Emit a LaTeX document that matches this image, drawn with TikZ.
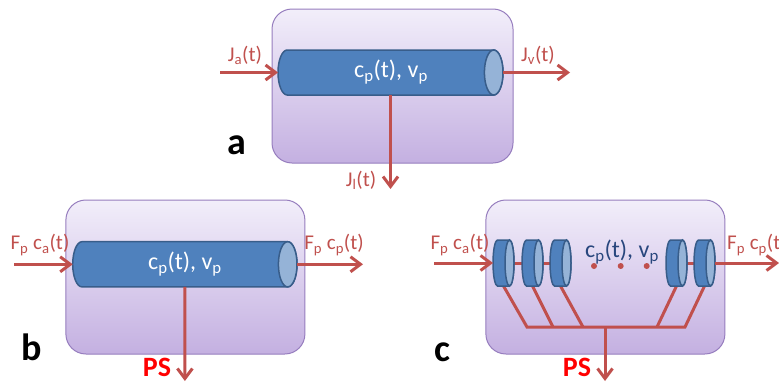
\documentclass[tikz,border=0pt]{standalone}
\usepackage{fontspec}
\setmainfont{Carlito}
\usetikzlibrary{arrows.meta}
\definecolor{boxtop}{RGB}{242,238,250}
\definecolor{boxbot}{RGB}{196,176,225}
\definecolor{boxedge}{RGB}{150,125,190}
\definecolor{tubefill}{RGB}{79,129,189}
\definecolor{tubeedge}{RGB}{56,93,138}
\definecolor{tubeend}{RGB}{149,179,215}
\definecolor{flow}{RGB}{192,80,77}
\definecolor{psred}{RGB}{255,0,0}
\definecolor{ctext}{RGB}{40,70,125}
\newcommand\sub[1]{\textsubscript{#1}}
\pgfdeclarelayer{boxes}
\pgfdeclarelayer{wires}
\pgfsetlayers{boxes,wires,main}
\newcommand\tube[6]{% name, left edge, right edge, center y, rx, ry
  \path[tubebody] ({#2+#5},{#4+#6}) -- ({#3-#5},{#4+#6})
    arc[start angle=90,end angle=-90,x radius=#5,y radius=#6]
    -- ({#2+#5},{#4-#6})
    arc[start angle=270,end angle=90,x radius=#5,y radius=#6] -- cycle;
  \path[tubecap] ({#3-#5},#4) ellipse[x radius=#5,y radius=#6];
  \coordinate (#1-w) at (#2,#4);
  \coordinate (#1-e) at (#3,#4);
  \coordinate (#1-s) at ({(#2+#3)/2},{#4-#6});
}
\tikzset{
  compartment/.style={draw=boxedge, line width=1pt, rounded corners=20pt,
    top color=boxtop, bottom color=boxbot, inner sep=0pt},
  tubebody/.style={draw=tubeedge, line width=1.5pt, fill=tubefill},
  tubecap/.style={draw=tubeedge, line width=1.5pt, fill=tubeend},
  flowarrow/.style={draw=flow, line width=3pt, -{Straight Barb[length=10pt,width=15pt]}},
  flowline/.style={draw=flow, line width=3pt, line join=miter},
  flowlabel/.style={text=flow, font=\fontsize{21}{21}\selectfont, inner sep=0pt},
  tubetext/.style={text=white, font=\fontsize{24}{24}\selectfont, inner sep=0pt},
  ctexts/.style={text=ctext, font=\fontsize{24}{24}\selectfont, inner sep=0pt},
  pslabel/.style={text=psred, font=\bfseries\fontsize{28}{28}\selectfont, inner sep=0pt},
  panel/.style={text=black, font=\bfseries\fontsize{38}{38}\selectfont, inner sep=0pt},
  dotmark/.style={circle, fill=flow, minimum size=6pt, inner sep=0pt}
}
\begin{document}
\begin{tikzpicture}[x=1pt,y=1pt]
\useasboundingbox (0,0) rectangle (779,-383);
\begin{pgfonlayer}{boxes}
\node[compartment, minimum width=241pt, minimum height=154pt] (boxa) at (392.5,-86) {};
\node[compartment, minimum width=239pt, minimum height=154pt] (boxb) at (185.4,-277) {};
\node[compartment, minimum width=239pt, minimum height=154pt] (boxc) at (605.4,-277) {};
\end{pgfonlayer}
% ---------------- panel a
\tube{ta}{278}{503}{-72.5}{9.3}{22.5}
\coordinate (ina) at (220,-72.5);
\coordinate (outa) at (570,-72.5);
\coordinate (downa) at (390.5,-189);
\draw[flowarrow] (ina) -- (ta-w);
\draw[flowarrow] (ta-e) -- (outa);
\draw[flowarrow] (ta-s) -- (downa);
\node[flowlabel] (lja) at (245,-55) {J\sub{a}(t)};
\node[flowlabel] (ljv) at (538,-55) {J\sub{v}(t)};
\node[flowlabel] (ljl) at (361,-180) {J\sub{l}(t)};
\node[tubetext] (tta) at (391,-72) {c\sub{p}(t), v\sub{p}};
\node[panel] (pa) at (237,-145) {a};
% ---------------- panel b
\tube{tb}{72.7}{297}{-264.3}{9.3}{22.6}
\coordinate (inb) at (14,-264.3);
\coordinate (outb) at (363,-264.3);
\coordinate (downb) at (184.9,-381);
\draw[flowarrow] (inb) -- (tb-w);
\draw[flowarrow] (tb-e) -- (outb);
\draw[flowarrow] (tb-s) -- (downb);
\node[flowlabel] (lfb1) at (40,-245) {F\sub{p} c\sub{a}(t)};
\node[flowlabel] (lfb2) at (334,-245) {F\sub{p} c\sub{p}(t)};
\node[tubetext] (ttb) at (185,-264) {c\sub{p}(t), v\sub{p}};
\node[pslabel] (psb) at (157,-367) {PS};
\node[panel] (pb) at (32,-347) {b};
% ---------------- panel c
\tube{d1}{493}{514}{-263}{4.5}{23}
\tube{d2}{522}{543}{-263}{4.5}{23}
\tube{d3}{550}{571}{-263}{4.5}{23}
\tube{d4}{666}{687}{-263}{4.5}{23}
\tube{d5}{694}{715}{-263}{4.5}{23}
\coordinate (j1) at (527,-327);
\coordinate (j2) at (553,-327);
\coordinate (j3) at (583,-327);
\coordinate (jm) at (605,-327);
\coordinate (j4) at (657,-327);
\coordinate (j5) at (685,-327);
\begin{pgfonlayer}{wires}
\draw[flowline] (d1-w) -- (d3-e);
\draw[flowline] (d4-w) -- (d5-e);
\draw[flowline] (d1-s) -- (j1) -- (j5) -- (d5-s);
\draw[flowline] (d2-s) -- (j2);
\draw[flowline] (d3-s) -- (j3);
\draw[flowline] (d4-s) -- (j4);
\end{pgfonlayer}
\coordinate (inc) at (434,-263);
\coordinate (outc) at (779,-263);
\coordinate (downc) at (605,-381);
\draw[flowarrow] (inc) -- (d1-w);
\draw[flowarrow] (d5-e) -- (outc);
\draw[flowarrow] (jm) -- (downc);
\node[dotmark] (dot1) at (594,-266) {};
\node[dotmark] (dot2) at (620.7,-266) {};
\node[dotmark] (dot3) at (646.7,-266) {};
\node[flowlabel] (lfc1) at (460,-245) {F\sub{p} c\sub{a}(t)};
\node[flowlabel, anchor=west] (lfc2) at (727,-245) {F\sub{p} c\sub{p}(t)};
\node[ctexts] (ttc) at (622,-252) {c\sub{p}(t), v\sub{p}};
\node[pslabel] (psc) at (577,-367) {PS};
\node[panel] (pc) at (442,-352) {c};
\end{tikzpicture}
\end{document}
